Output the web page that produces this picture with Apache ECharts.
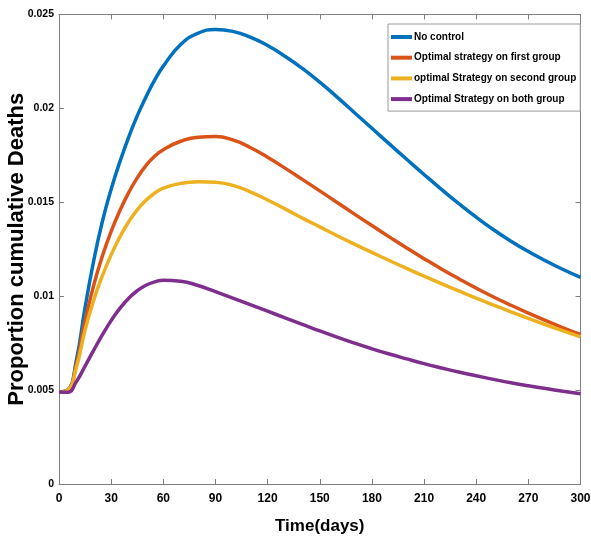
<!DOCTYPE html>
<html>
<head>
<meta charset="utf-8">
<script src="https://cdn.jsdelivr.net/npm/echarts@6/dist/echarts.min.js"></script>
<style>
html,body{margin:0;padding:0;background:#fff;}
#chart{width:591px;height:546px;}
</style>
</head>
<body>
<div id="chart"></div>
<script>
const days = [0,5,10,15,20,25,30,35,40,45,50,55,60,70,80,90,100,110,120,130,140,150,160,170,180,190,200,210,220,230,240,250,260,270,280,290,300];
const noControl = [0.0049,0.0050,0.0066,0.0094,0.0119,0.0140,0.0157,0.01715,0.01845,0.01960,0.02060,0.02150,0.02225,0.02340,0.02400,0.02420,0.02410,0.02380,0.02335,0.02278,0.02213,0.02140,0.02060,0.01977,0.01894,0.01811,0.01729,0.01648,0.01569,0.01493,0.01421,0.01354,0.01293,0.01238,0.01188,0.01142,0.01100];
const firstGroup = [0.0049,0.0050,0.0064,0.0087,0.0106,0.01215,0.01345,0.01455,0.0155,0.0163,0.01695,0.01745,0.0178,0.01825,0.01847,0.01850,0.01832,0.01792,0.01740,0.01682,0.01622,0.01561,0.01499,0.01437,0.01376,0.01316,0.01257,0.01200,0.01145,0.01093,0.01043,0.00996,0.00952,0.00910,0.00870,0.00832,0.00796];
const secondGroup = [0.0049,0.0050,0.0062,0.0082,0.0098,0.0111,0.0122,0.01315,0.01395,0.0146,0.0151,0.01548,0.01575,0.01601,0.01610,0.01607,0.01590,0.01556,0.01512,0.01465,0.01416,0.01369,0.01322,0.01277,0.01233,0.01190,0.01148,0.01107,0.01067,0.01028,0.00990,0.00953,0.00917,0.00882,0.00848,0.00815,0.00783];
const bothGroup = [0.0049,0.00488,0.00545,0.00628,0.00713,0.00795,0.00870,0.00935,0.00988,0.01029,0.01058,0.01076,0.01085,0.01080,0.01057,0.01024,0.00990,0.00955,0.00920,0.00885,0.00850,0.00815,0.00782,0.00750,0.00720,0.00692,0.00666,0.00641,0.00618,0.00596,0.00576,0.00557,0.00539,0.00523,0.00508,0.00494,0.00481];
const seriesNames = ['No control','Optimal strategy on first group','optimal Strategy on second group','Optimal Strategy on both group'];
const seriesColors = ['#0072BD','#D95319','#EDB120','#7E2F8E'];
const seriesValues = [noControl, firstGroup, secondGroup, bothGroup];

const FONT = '"Liberation Sans",Arial,sans-serif';
const axisGray = '#808080';
const chart = echarts.init(document.getElementById('chart'), null, {renderer:'canvas'});
const tick = {show:true, inside:true, length:5, lineStyle:{color:axisGray}};
const line = {show:true, onZero:false, lineStyle:{color:axisGray, width:1}};
chart.setOption({
  backgroundColor:'#fff',
  animation:false,
  grid:{left:59, right:10.5, top:14.5, bottom:62, containLabel:false, outerBoundsMode:'none'},
  legend:{
    orient:'vertical', left:388, top:24,
    backgroundColor:'#fff', borderColor:'#9a9a9a', borderWidth:1,
    padding:[6,4,5,3], itemGap:6.7, itemWidth:21, itemHeight:4,
    icon:'rect',
    textStyle:{fontFamily:FONT, fontSize:10, lineHeight:14, fontWeight:'bold', color:'#000', padding:[0,0,0,-3]},
    data:seriesNames
  },
  xAxis:[
    {type:'value', min:0, max:300, interval:30, position:'bottom',
      axisLine:line, axisTick:tick, splitLine:{show:false},
      name:'Time(days)', nameLocation:'middle', nameGap:34, nameMoveOverlap:false,
      nameTextStyle:{fontFamily:FONT, fontSize:17, fontWeight:'bold', color:'#000'},
      axisLabel:{show:true, margin:9, fontFamily:FONT, fontSize:12, fontWeight:'bold', color:'#000'}},
    {type:'value', min:0, max:300, interval:30, position:'top',
      axisLine:line, axisTick:tick, splitLine:{show:false}, axisLabel:{show:false}}
  ],
  yAxis:[
    {type:'value', min:0, max:0.025, interval:0.005, position:'left',
      axisLine:line, axisTick:tick, splitLine:{show:false},
      name:'Proportion cumulative Deaths', nameLocation:'middle', nameGap:31, nameMoveOverlap:false,
      nameTextStyle:{fontFamily:FONT, fontSize:22, fontWeight:'bold', color:'#000'},
      axisLabel:{show:true, margin:5, fontFamily:FONT, fontSize:10.5, fontWeight:'bold', color:'#000',
        formatter:v => String(+v.toFixed(3))}},
    {type:'value', min:0, max:0.025, interval:0.005, position:'right',
      axisLine:line, axisTick:tick, splitLine:{show:false}, axisLabel:{show:false}}
  ],
  series: seriesNames.map((n,i) => ({
    name:n, type:'line', smooth:0.5, showSymbol:false, symbol:'none',
    xAxisIndex:0, yAxisIndex:0,
    color:seriesColors[i],
    lineStyle:{color:seriesColors[i], width:3.5},
    data: days.map((d,k) => [d, seriesValues[i][k]])
  }))
});
</script>
</body>
</html>
